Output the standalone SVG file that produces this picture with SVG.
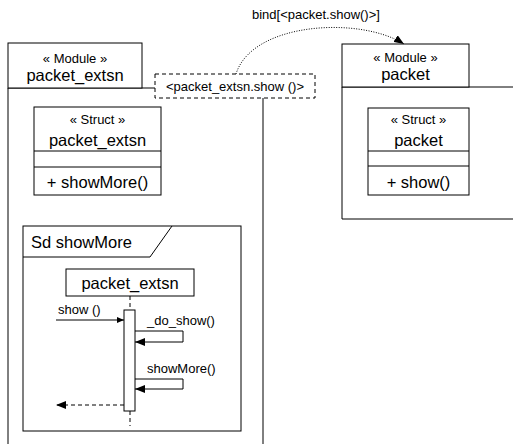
<svg xmlns="http://www.w3.org/2000/svg" width="513" height="444" viewBox="0 0 513 444">
<style>
text{font-family:"Liberation Sans",Arial,sans-serif;fill:#000}
.s{font-size:13px}
.b{font-size:16.5px}
.st{font-size:13px}
.ln{fill:none;stroke:#000;stroke-width:1}
.bx{fill:#fff;stroke:#000;stroke-width:1}
.dash{fill:none;stroke:#000;stroke-width:1;stroke-dasharray:4,3}
.dot{fill:none;stroke:#000;stroke-width:1;stroke-dasharray:1,1.5}
</style>
<defs>
<marker id="ah" markerWidth="10" markerHeight="8" refX="10" refY="4" orient="auto" markerUnits="userSpaceOnUse">
<path d="M0,0 L10,4 L0,8 Z" fill="#000"/>
</marker>
<marker id="as" markerWidth="7" markerHeight="6" refX="7" refY="3" orient="auto" markerUnits="userSpaceOnUse">
<path d="M0,0 L7,3 L0,6 Z" fill="#000"/>
</marker>
</defs>
<rect width="513" height="444" fill="#fff"/>

<g id="module-packet_extsn">
<path class="ln" d="M8,444 V88 H155 M263,98 V444"/>
<rect class="bx" x="8" y="43" width="134" height="45"/>
<text class="st" x="75" y="63" text-anchor="middle">« Module »</text>
<text class="b" x="75" y="81" text-anchor="middle">packet_extsn</text>
</g>

<g id="template-param">
<rect x="155" y="74" width="160" height="24" fill="#fff" stroke="#000" stroke-dasharray="4,3"/>
<text class="s" x="235" y="91" text-anchor="middle">&lt;packet_extsn.show ()&gt;</text>
</g>

<g id="struct-packet_extsn">
<rect class="bx" x="34" y="107" width="127" height="88"/>
<path class="ln" d="M34,151 H161 M34,167 H161"/>
<text class="st" x="97.5" y="124" text-anchor="middle">« Struct »</text>
<text class="b" x="97.5" y="146" text-anchor="middle">packet_extsn</text>
<text class="b" x="97.5" y="188" text-anchor="middle">+ showMore()</text>
</g>

<g id="module-packet">
<path class="ln" d="M513,87 H342 V219 H513"/>
<rect class="bx" x="342" y="44" width="127" height="43"/>
<text class="st" x="405.5" y="62" text-anchor="middle">« Module »</text>
<text class="b" x="405.5" y="80" text-anchor="middle">packet</text>
</g>

<g id="struct-packet">
<rect class="bx" x="368" y="108" width="101" height="87"/>
<path class="ln" d="M368,151 H469 M368,166 H469"/>
<text class="st" x="418.5" y="124" text-anchor="middle">« Struct »</text>
<text class="b" x="418.5" y="146" text-anchor="middle">packet</text>
<text class="b" x="418.5" y="188" text-anchor="middle">+ show()</text>
</g>

<g id="sd-showMore">
<rect class="bx" x="23" y="226" width="218" height="205"/>
<path class="ln" d="M23,257 H150 L172,226"/>
<text class="b" x="31" y="248">Sd showMore</text>
</g>

<g id="lifeline-packet_extsn">
<rect class="bx" x="66" y="269" width="128" height="27"/>
<text class="b" x="130" y="289" text-anchor="middle">packet_extsn</text>
<path class="dash" d="M130,296 V310 M130,411 V426"/>
<rect class="bx" x="124" y="310" width="11" height="101"/>
</g>

<g id="connectors">
<path class="dot" d="M236,74 C252,22 360,16 404,44" marker-end="url(#ah)"/>
<text class="s" x="252" y="19">bind[&lt;packet.show()&gt;]</text>
<path class="ln" d="M56,320 H124" marker-end="url(#as)"/>
<text class="s" x="58" y="314">show ()</text>
<path class="ln" d="M135,331 H183 V342 H135" marker-end="url(#ah)"/>
<text class="s" x="147" y="325">_do_show()</text>
<path class="ln" d="M135,379 H183 V389 H135" marker-end="url(#ah)"/>
<text class="s" x="147" y="373">showMore()</text>
<path class="dash" d="M124,405 H56" marker-end="url(#ah)"/>
</g>
</svg>
